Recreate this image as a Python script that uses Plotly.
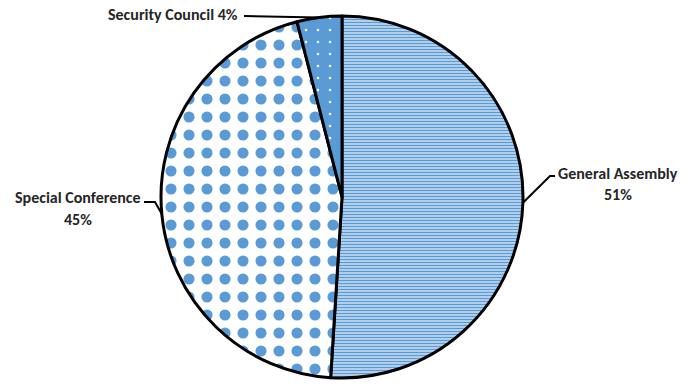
import math
import plotly.graph_objects as go

# Share of resolutions by originating body
bodies = ["General Assembly", "Special Conference", "Security Council"]
shares = [51, 45, 4]

W, H = 694, 388
BLUE = "#5B9BD5"
INK = "#262626"

# Pie placement in pixels (centre and radius)
CX, CY, R = 342, 197, 181


def px(x):
    return x / W


def py(y):
    return 1 - y / H


fig = go.Figure(
    go.Pie(
        labels=bodies,
        values=shares,
        sort=False,
        direction="clockwise",
        rotation=0,
        textinfo="none",
        hoverinfo="label+percent",
        showlegend=False,
        domain=dict(x=[px(CX - R), px(CX + R)], y=[py(CY + R), py(CY - R)]),
        marker=dict(
            colors=["white", "white", BLUE],
            line=dict(color="black", width=3),
            pattern=dict(
                shape=["-", ".", "."],
                fgcolor=[BLUE, BLUE, "white"],
                bgcolor=["white", "white", BLUE],
                size=[3, 18, 12],
                solidity=[0.65, 0.3, 0.03],
                fillmode="replace",
            ),
        ),
    )
)

# Label layout: name position, percent position, and leader path via elbow
label_style = {
    "General Assembly": dict(name=(618, 173), pct=(618, 194), one_line=False,
                              elbow=[(550, 176), (555, 176)]),
    "Special Conference": dict(name=(78, 197), pct=(78, 219), one_line=False,
                                elbow=[(155, 202), (144, 202)]),
    "Security Council": dict(name=(173, 15), pct=None, one_line=True,
                              elbow=[(244, 16)]),
}

total = sum(shares)
cum = 0
shapes = []
annotations = []
font = dict(family="Carlito, Lato, sans-serif", size=16, color=INK)
for name, val in zip(bodies, shares):
    mid = (cum + val / 2) / total * 2 * math.pi
    cum += val
    ax = CX + R * math.sin(mid)
    ay = CY - R * math.cos(mid)
    st = label_style[name]
    pct = f"{round(val / total * 100)}%"
    pts = [(ax, ay)] + st["elbow"]
    path = "M " + " L ".join(f"{px(x):.5f},{py(y):.5f}" for x, y in pts)
    shapes.append(dict(type="path", xref="paper", yref="paper", path=path,
                       line=dict(color="black", width=2)))
    if st["one_line"]:
        annotations.append(dict(x=px(st["name"][0]), y=py(st["name"][1]),
                                xref="paper", yref="paper", showarrow=False,
                                text=f"<b>{name} {pct}</b>", font=font,
                                xanchor="center", yanchor="middle"))
    else:
        annotations.append(dict(x=px(st["name"][0]), y=py(st["name"][1]),
                                xref="paper", yref="paper", showarrow=False,
                                text=f"<b>{name}</b>", font=font,
                                xanchor="center", yanchor="middle"))
        annotations.append(dict(x=px(st["pct"][0]), y=py(st["pct"][1]),
                                xref="paper", yref="paper", showarrow=False,
                                text=f"<b>{pct}</b>", font=font,
                                xanchor="center", yanchor="middle"))

fig.update_layout(
    width=W,
    height=H,
    margin=dict(l=0, r=0, t=0, b=0),
    paper_bgcolor="white",
    plot_bgcolor="white",
    shapes=shapes,
    annotations=annotations,
)

fig.write_html("out.html")
